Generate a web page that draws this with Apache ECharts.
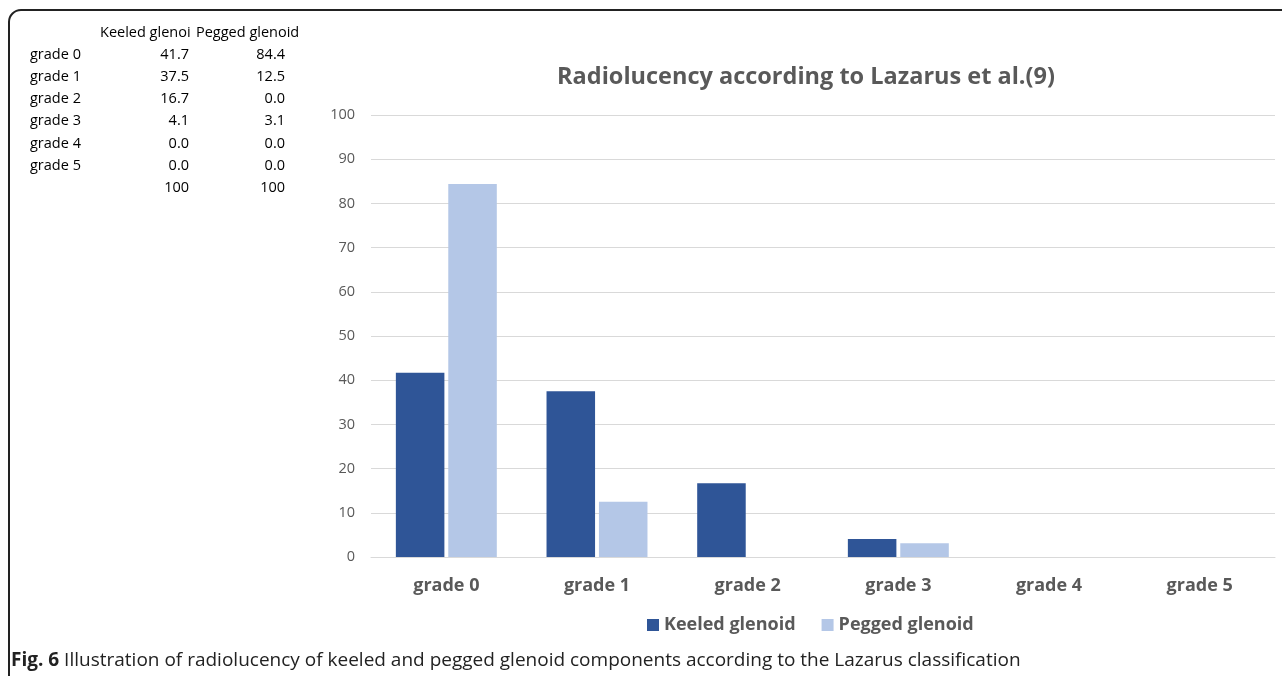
<!DOCTYPE html>
<html><head><meta charset="utf-8">
<script src="https://cdn.jsdelivr.net/npm/echarts@6/dist/echarts.min.js"></script>
<style>html,body{margin:0;padding:0;background:#fff}#c{width:1282px;height:676px}</style>
</head><body><div id="c"></div>
<script>
const categories = ['grade 0','grade 1','grade 2','grade 3','grade 4','grade 5'];
const keeled = [41.7, 37.5, 16.7, 4.1, 0.0, 0.0];
const pegged = [84.4, 12.5, 0.0, 3.1, 0.0, 0.0];
const totals = ['100','100'];
const tableHeaders = ['Keeled glenoi','Pegged glenoid'];
const seriesNames = ['Keeled glenoid','Pegged glenoid'];
const titleText = 'Radiolucency according to Lazarus et al.(9)';
const captionBold = 'Fig. 6';
const captionText = ' Illustration of radiolucency of keeled and pegged glenoid components according to the Lazarus classification';

const chart = echarts.init(document.getElementById('c'));
const tFont = 'Open Sans, sans-serif';
const tableEls = [];
const tStyle = {fontFamily: tFont, fontSize: 14.5, fill: '#000', verticalAlign: 'middle'};
tableEls.push({type:'text', x: 100, y: 33, style: Object.assign({text: tableHeaders[0], align: 'left'}, tStyle)});
tableEls.push({type:'text', x: 196, y: 33, style: Object.assign({text: tableHeaders[1], align: 'left'}, tStyle)});
categories.forEach((c, i) => {
  const y = 55 + i * 22.1;
  tableEls.push({type:'text', x: 30, y: y, style: Object.assign({text: c, align: 'left'}, tStyle)});
  tableEls.push({type:'text', x: 189, y: y, style: Object.assign({text: keeled[i].toFixed(1), align: 'right'}, tStyle)});
  tableEls.push({type:'text', x: 285, y: y, style: Object.assign({text: pegged[i].toFixed(1), align: 'right'}, tStyle)});
});
tableEls.push({type:'text', x: 189, y: 55 + 6 * 22.1, style: Object.assign({text: totals[0], align: 'right'}, tStyle)});
tableEls.push({type:'text', x: 285, y: 55 + 6 * 22.1, style: Object.assign({text: totals[1], align: 'right'}, tStyle)});

chart.setOption({
  animation: false,
  title: {text: titleText, left: 801, top: 60, textAlign: 'center',
    textStyle: {fontFamily: tFont, fontSize: 23.5, fontWeight: 'bold', color: '#595959'}},
  legend: {data: seriesNames, top: 611, left: 642, itemWidth: 12, itemHeight: 12, itemGap: 26,
    icon: 'rect', textStyle: {fontFamily: tFont, fontSize: 18, fontWeight: 'bold', color: '#595959'}},
  grid: {left: 371, right: 7, top: 115, bottom: 119, containLabel: false},
  xAxis: {type: 'category', data: categories,
    axisLine: {lineStyle: {color: '#D9D9D9'}}, axisTick: {show: false},
    axisLabel: {fontFamily: tFont, fontSize: 18, fontWeight: 'bold', color: '#595959', margin: 20}},
  yAxis: {type: 'value', min: 0, max: 100, interval: 10,
    axisLine: {show: false}, axisTick: {show: false},
    splitLine: {lineStyle: {color: '#D9D9D9'}},
    axisLabel: {fontFamily: tFont, fontSize: 14.5, color: '#595959', margin: 16}},
  series: [
    {name: seriesNames[0], type: 'bar', data: keeled, itemStyle: {color: '#2F5597'}, barGap: '8%', barCategoryGap: '33%'},
    {name: seriesNames[1], type: 'bar', data: pegged, itemStyle: {color: '#B4C7E7'}, barGap: '8%', barCategoryGap: '33%'}
  ],
  graphic: tableEls.concat([
    {type: 'rect', shape: {x: 9, y: 10, width: 1320, height: 720, r: [12, 0, 0, 0]},
      style: {fill: 'none', stroke: '#222', lineWidth: 2}},
    {type: 'text', x: 11, y: 661, style: {
      text: '{b|' + captionBold + '}' + captionText, verticalAlign: 'middle',
      fontFamily: tFont, fontSize: 19, fill: '#222',
      rich: {b: {fontFamily: tFont, fontSize: 19, fontWeight: 'bold', fill: '#222'}}}}
  ])
});
</script></body></html>
